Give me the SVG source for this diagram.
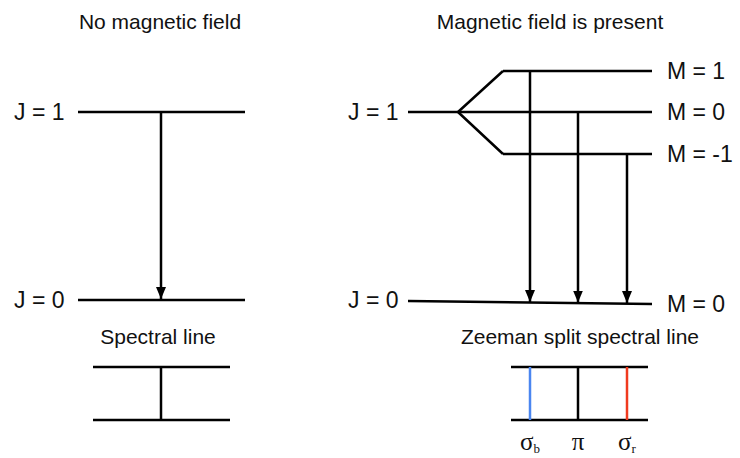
<svg xmlns="http://www.w3.org/2000/svg" width="740" height="458" viewBox="0 0 740 458">
<style>
.t{font-family:"Liberation Sans",Arial,sans-serif;font-size:21px;fill:#111}
.lb{font-family:"Liberation Sans",Arial,sans-serif;font-size:23px;fill:#111}
.g{font-family:"Liberation Serif","Times New Roman",serif;font-size:25px;fill:#111}
.s{font-size:13px}
.ln{stroke:#000;stroke-width:2.5;fill:none}
</style>
<defs>
<marker id="ah" viewBox="0 0 12 10" refX="12" refY="5" markerWidth="12" markerHeight="10" markerUnits="userSpaceOnUse" orient="auto">
<path d="M0,0 L12,5 L0,10 Z" fill="#000"/>
</marker>
</defs>
<rect width="740" height="458" fill="#fff"/>
<text class="t" x="160" y="29" text-anchor="middle">No magnetic field</text>
<text class="t" x="550" y="29" text-anchor="middle">Magnetic field is present</text>
<g id="left-J1"><text class="lb" x="14" y="120">J = 1</text><line class="ln" x1="78" y1="112" x2="245" y2="112"/></g>
<g id="left-J0"><text class="lb" x="14" y="308">J = 0</text><line class="ln" x1="78" y1="300" x2="245" y2="300"/></g>
<g id="right-J1"><text class="lb" x="348" y="120">J = 1</text><line class="ln" x1="408" y1="112" x2="458" y2="112"/></g>
<g id="M1"><line class="ln" x1="503" y1="71" x2="652" y2="71"/><text class="lb" x="667" y="79">M = 1</text></g>
<g id="M0"><line class="ln" x1="458" y1="112" x2="652" y2="112"/><text class="lb" x="667" y="120">M = 0</text></g>
<g id="Mm1"><line class="ln" x1="503" y1="154" x2="652" y2="154"/><text class="lb" x="667" y="162">M = -1</text></g>
<g id="right-J0"><text class="lb" x="348" y="308">J = 0</text><line class="ln" x1="408" y1="301" x2="652" y2="304"/><text class="lb" x="667" y="312">M = 0</text></g>
<g id="connectors">
<path class="ln" d="M458,112 L503,71 M458,112 L503,154"/>
<line class="ln" x1="161" y1="112" x2="161" y2="299" marker-end="url(#ah)"/>
<line class="ln" x1="530" y1="71" x2="530" y2="302" marker-end="url(#ah)"/>
<line class="ln" x1="578" y1="112" x2="578" y2="302.5" marker-end="url(#ah)"/>
<line class="ln" x1="627" y1="154" x2="627" y2="303" marker-end="url(#ah)"/>
</g>
<text class="t" x="158" y="344" text-anchor="middle">Spectral line</text>
<text class="t" x="580" y="344" text-anchor="middle">Zeeman split spectral line</text>
<g id="spectral-line">
<line class="ln" x1="93" y1="367" x2="230" y2="367"/>
<line class="ln" x1="93" y1="420" x2="230" y2="420"/>
<line class="ln" x1="161" y1="367" x2="161" y2="420"/>
</g>
<g id="zeeman-line">
<line class="ln" x1="511" y1="367" x2="648" y2="367"/>
<line class="ln" x1="511" y1="420" x2="648" y2="420"/>
<line x1="530" y1="367" x2="530" y2="420" stroke="#4a86f0" stroke-width="2.5"/>
<line class="ln" x1="578" y1="367" x2="578" y2="420"/>
<line x1="627" y1="367" x2="627" y2="420" stroke="#f03a1e" stroke-width="2.5"/>
</g>
<text class="g" x="530" y="450" text-anchor="middle">σ<tspan class="s" dy="3">b</tspan></text>
<text class="g" x="578" y="450" text-anchor="middle">π</text>
<text class="g" x="627" y="450" text-anchor="middle">σ<tspan class="s" dy="3">r</tspan></text>
</svg>
